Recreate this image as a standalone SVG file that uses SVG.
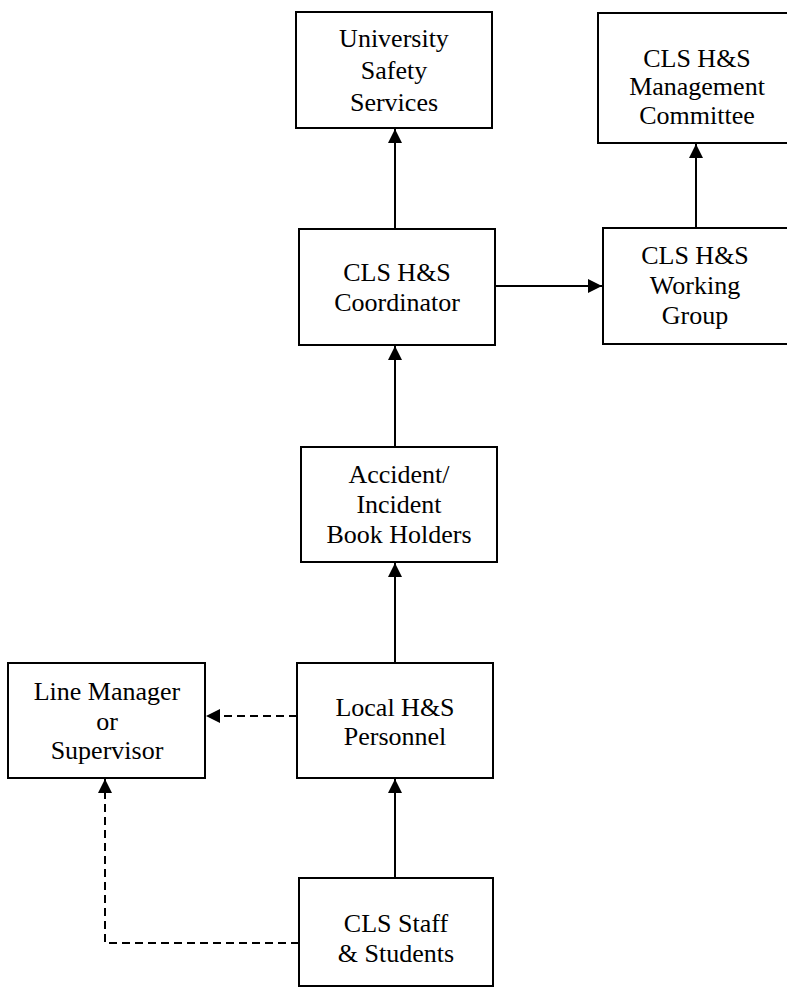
<svg xmlns="http://www.w3.org/2000/svg" width="787" height="988" viewBox="0 0 787 988">
<style>
.box{fill:#fff;stroke:#000;stroke-width:2}
.t{font-family:"Liberation Serif","Times New Roman",serif;font-size:26px;fill:#000;text-anchor:middle}
.c{fill:none;stroke:#000;stroke-width:2}
.d{stroke-dasharray:8,5}
</style>
<defs>
<marker id="ah" viewBox="0 0 14 14" refX="14" refY="7" markerWidth="14" markerHeight="14" markerUnits="userSpaceOnUse" orient="auto">
<path d="M0,0 L14,7 L0,14 z" fill="#000"/>
</marker>
</defs>
<rect width="787" height="988" fill="#fff"/>
<g id="connectors">
<line class="c" x1="395" y1="229" x2="395" y2="129" marker-end="url(#ah)"/>
<line class="c" x1="495" y1="286" x2="602" y2="286" marker-end="url(#ah)"/>
<line class="c" x1="696" y1="228" x2="696" y2="144" marker-end="url(#ah)"/>
<line class="c" x1="395" y1="447" x2="395" y2="346" marker-end="url(#ah)"/>
<line class="c" x1="395" y1="663" x2="395" y2="563" marker-end="url(#ah)"/>
<line class="c" x1="395" y1="878" x2="395" y2="779" marker-end="url(#ah)"/>
<line class="c d" x1="297" y1="716" x2="206" y2="716" marker-end="url(#ah)"/>
<polyline class="c d" points="299,943 105,943 105,779" marker-end="url(#ah)"/>
</g>
<g id="uss">
<rect class="box" x="296" y="12" width="196" height="116"/>
<text class="t" x="394" y="47">University</text>
<text class="t" x="394" y="79">Safety</text>
<text class="t" x="394" y="111">Services</text>
</g>
<g id="mgmt">
<rect class="box" x="598" y="13" width="200" height="130"/>
<text class="t" x="697" y="67">CLS H&amp;S</text>
<text class="t" x="697" y="95">Management</text>
<text class="t" x="697" y="124">Committee</text>
</g>
<g id="coord">
<rect class="box" x="299" y="229" width="196" height="116"/>
<text class="t" x="397" y="281">CLS H&amp;S</text>
<text class="t" x="397" y="311">Coordinator</text>
</g>
<g id="wg">
<rect class="box" x="603" y="228" width="195" height="116"/>
<text class="t" x="695" y="264">CLS H&amp;S</text>
<text class="t" x="695" y="294">Working</text>
<text class="t" x="695" y="324">Group</text>
</g>
<g id="book">
<rect class="box" x="301" y="447" width="196" height="115"/>
<text class="t" x="399" y="483">Accident/</text>
<text class="t" x="399" y="513">Incident</text>
<text class="t" x="399" y="543">Book Holders</text>
</g>
<g id="linemgr">
<rect class="box" x="8" y="663" width="197" height="115"/>
<text class="t" x="107" y="700">Line Manager</text>
<text class="t" x="107" y="730">or</text>
<text class="t" x="107" y="759">Supervisor</text>
</g>
<g id="local">
<rect class="box" x="297" y="663" width="196" height="115"/>
<text class="t" x="395" y="716">Local H&amp;S</text>
<text class="t" x="395" y="745">Personnel</text>
</g>
<g id="staff">
<rect class="box" x="299" y="878" width="194" height="108"/>
<text class="t" x="396" y="932">CLS Staff</text>
<text class="t" x="396" y="962">&amp; Students</text>
</g>
</svg>
